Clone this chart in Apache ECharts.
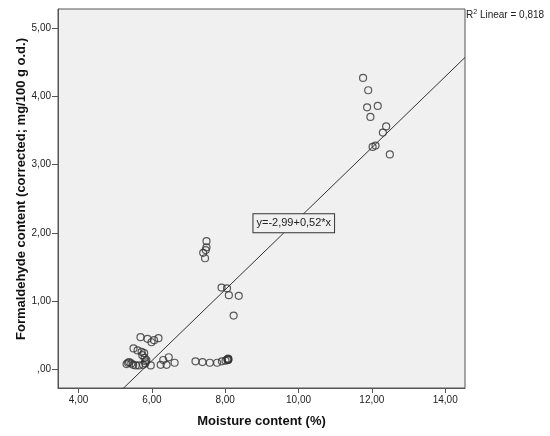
<!DOCTYPE html>
<html>
<head>
<meta charset="utf-8">
<script src="https://cdn.jsdelivr.net/npm/echarts@6/dist/echarts.min.js"></script>
<style>
  html, body { margin: 0; padding: 0; background: #fff; }
  #chart { width: 550px; height: 436px; }
</style>
</head>
<body>
<div id="chart"></div>
<script>
// moisture content (%) and formaldehyde content
const moisture = [
  11.76, 11.90, 11.87, 12.16, 11.96, 12.39, 12.30, 12.02, 12.10, 12.49,
  7.49, 7.49, 7.47, 7.40, 7.45, 7.90, 8.05, 8.10, 8.37, 8.23,
  5.69, 5.88, 5.99, 6.06, 6.18,
  5.50, 5.61, 5.72, 5.79, 5.74, 5.80, 5.85, 5.83,
  5.31, 5.38, 5.44, 5.49, 5.56, 5.65, 5.76, 5.97, 5.35, 5.82,
  6.31, 6.46, 6.24, 6.40, 6.62,
  7.19, 7.38, 7.58, 7.78, 7.91, 8.01, 8.08, 8.06, 8.09, 8.07, 8.08
];
const formaldehyde = [
  4.27, 4.09, 3.84, 3.86, 3.70, 3.56, 3.47, 3.26, 3.28, 3.15,
  1.88, 1.79, 1.75, 1.71, 1.63, 1.20, 1.19, 1.09, 1.08, 0.79,
  0.475, 0.45, 0.40, 0.43, 0.46,
  0.31, 0.28, 0.26, 0.24, 0.21, 0.17, 0.14, 0.12,
  0.08, 0.11, 0.09, 0.07, 0.06, 0.06, 0.07, 0.06, 0.10, 0.09,
  0.14, 0.18, 0.07, 0.07, 0.10,
  0.12, 0.11, 0.10, 0.10, 0.12, 0.13, 0.14, 0.15, 0.15, 0.14, 0.16
];

const xTicks = [4, 6, 8, 10, 12, 14];
const yTicks = [0, 1, 2, 3, 4, 5];

// linear fit reported by SPSS
const intercept = -2.99;
const slope = 0.52;
const rSquared = '0,818';

const xMin = 3.44, xMax = 14.54;
const yMin = -0.27, yMax = 5.28;

// SPSS style: comma decimals, zero shown as ",00"
const tickFmt = v => (v === 0 ? ',00' : v.toFixed(2).replace('.', ','));
const numFmt = v => v.toFixed(2).replace('.', ',');

const myChart = echarts.init(document.getElementById('chart'));

const points = moisture.map((m, i) => [m, formaldehyde[i]]);
const fitLine = [xMin, xMax].map(x => [x, intercept + slope * x]);
const labelX = 9.87;

const axisCommon = {
  axisLine: { show: true, onZero: false, lineStyle: { color: '#555', width: 1 } },
  axisTick: { show: true, length: 5, lineStyle: { color: '#555' } },
  splitLine: { show: false }
};

const option = {
  animation: false,
  grid: {
    left: 58, right: 85, top: 9, bottom: 48,
    show: true,
    backgroundColor: '#f0f0f0',
    borderColor: '#555',
    borderWidth: 1,
    outerBoundsMode: 'none'
  },
  xAxis: {
    ...axisCommon,
    type: 'value',
    min: xMin,
    max: xMax,
    name: 'Moisture content (%)',
    nameLocation: 'middle',
    nameGap: 27,
    nameTextStyle: { fontFamily: 'Liberation Sans', fontWeight: 'bold', fontSize: 13, color: '#111' },
    axisTick: { ...axisCommon.axisTick, customValues: xTicks },
    axisLabel: {
      customValues: xTicks,
      formatter: tickFmt,
      margin: 7,
      fontFamily: 'Liberation Sans',
      fontSize: 10,
      color: '#222'
    }
  },
  yAxis: {
    ...axisCommon,
    type: 'value',
    min: yMin,
    max: yMax,
    axisTick: { ...axisCommon.axisTick, length: 6, customValues: yTicks },
    axisLabel: {
      customValues: yTicks,
      formatter: tickFmt,
      margin: 7,
      fontFamily: 'Liberation Sans',
      fontSize: 10,
      color: '#222'
    }
  },
  series: [
    {
      type: 'scatter',
      data: points,
      symbol: 'circle',
      symbolSize: 7,
      itemStyle: { color: 'rgba(0,0,0,0)', borderColor: '#333', borderWidth: 1.2 }
    },
    {
      type: 'line',
      data: fitLine,
      symbol: 'none',
      clip: true,
      lineStyle: { color: '#333', width: 1 },
      markPoint: {
        symbol: 'rect',
        symbolSize: 0,
        data: [{ coord: [labelX, intercept + slope * labelX] }],
        label: {
          show: true,
          position: 'inside',
          formatter: 'y=' + numFmt(intercept) + '+' + numFmt(slope) + '*x',
          fontFamily: 'Liberation Sans',
          fontSize: 11,
          color: '#222',
          backgroundColor: '#f0f0f0',
          borderColor: '#333',
          borderWidth: 1,
          padding: [4, 3, 3, 3]
        }
      }
    }
  ],
  graphic: [
    {
      type: 'text',
      x: 21,
      y: 189,
      rotation: Math.PI / 2,
      style: {
        text: 'Formaldehyde content (corrected; mg/100 g o.d.)',
        fontFamily: 'Liberation Sans',
        fontWeight: 'bold',
        fontSize: 13,
        fill: '#111',
        align: 'center',
        verticalAlign: 'middle'
      }
    },
    {
      type: 'text',
      left: 466,
      top: 9,
      style: {
        text: '{r|R}{s|2}{r| Linear = ' + rSquared + '}',
        rich: {
          r: { fontFamily: 'Liberation Sans', fontSize: 10, fill: '#222', verticalAlign: 'bottom' },
          s: { fontFamily: 'Liberation Sans', fontSize: 7, fill: '#222', verticalAlign: 'top', padding: [0, 0, 4, 0] }
        }
      }
    }
  ]
};

myChart.setOption(option);
</script>
</body>
</html>
